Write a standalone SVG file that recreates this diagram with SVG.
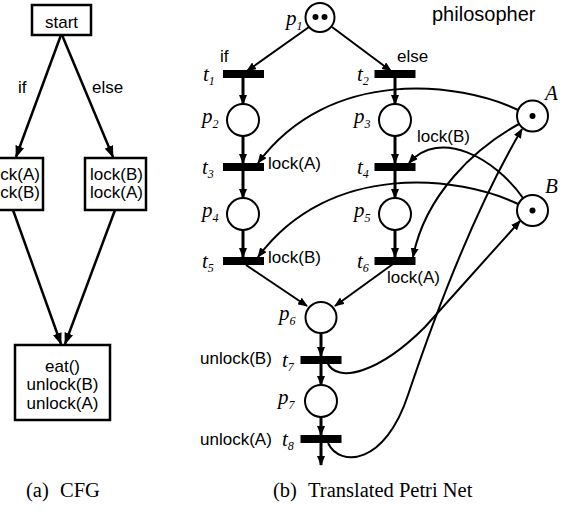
<svg xmlns="http://www.w3.org/2000/svg" width="564" height="516" viewBox="0 0 564 516">
<defs>
<marker id="ah" markerWidth="10" markerHeight="8" refX="9" refY="4" orient="auto" markerUnits="userSpaceOnUse"><path d="M0,0 L10,4 L0,8 z" fill="#000"/></marker>
<marker id="ahc" markerWidth="12" markerHeight="9" refX="11" refY="4.5" orient="auto" markerUnits="userSpaceOnUse"><path d="M0,0 L12,4.5 L0,9 z" fill="#000"/></marker>
</defs>
<style>
.box{fill:#fff;stroke:#000;stroke-width:2.5}
.lbl{font-family:"Liberation Sans",Arial,sans-serif;font-size:17px;fill:#000}
.it{font-family:"Liberation Serif","Times New Roman",serif;font-style:italic;font-size:21px;fill:#000}
.sub{font-size:12px}
.place{fill:#fff;stroke:#000;stroke-width:2}
.bar{fill:#000}
.arc{fill:none;stroke:#000;stroke-width:2;marker-end:url(#ah)}
.v{stroke-width:3}
.cfg{fill:none;stroke:#000;stroke-width:2.5;marker-end:url(#ahc)}
.cap{font-family:"Liberation Serif","Times New Roman",serif;font-size:20.5px;fill:#000}
</style>
<rect width="564" height="516" fill="#fff"/>

<!-- CFG -->
<g id="cfg-edges">
<path class="cfg" d="M61,35 L16,157"/>
<path class="cfg" d="M62,35 L113,157"/>
<path class="cfg" d="M13,210 L61,344"/>
<path class="cfg" d="M115,210 L65,344"/>
</g>
<g id="cfg-start"><rect class="box" x="32" y="5" width="59" height="30"/><text class="lbl" x="61.5" y="28" text-anchor="middle">start</text></g>
<g id="cfg-if"><rect class="box" x="-17" y="158" width="60" height="52"/><text class="lbl" x="-13" y="180">lock(A)</text><text class="lbl" x="-13" y="198">lock(B)</text></g>
<g id="cfg-else"><rect class="box" x="85" y="158" width="61" height="52"/><text class="lbl" x="90" y="180">lock(B)</text><text class="lbl" x="90" y="198">lock(A)</text></g>
<g id="cfg-end"><rect class="box" x="15" y="345" width="95" height="75"/><text class="lbl" x="62.5" y="372" text-anchor="middle">eat()</text><text class="lbl" x="62.5" y="390" text-anchor="middle">unlock(B)</text><text class="lbl" x="62.5" y="409" text-anchor="middle">unlock(A)</text></g>
<text class="lbl" x="18" y="93">if</text>
<text class="lbl" x="92" y="93">else</text>
<text class="cap" x="26" y="497">(a)</text><text class="cap" x="60" y="497">CFG</text>

<!-- Petri net -->
<text class="lbl" x="432" y="21" style="font-size:20px">philosopher</text>
<g id="connectors">
<path class="arc" d="M309,27 L247,71"/>
<path class="arc" d="M332,27 L391,71"/>
<path class="arc v" d="M243,78 L243,104"/>
<path class="arc v" d="M243,136 L243,163"/>
<path class="arc v" d="M243,171 L243,198"/>
<path class="arc v" d="M243,230 L243,257"/>
<path class="arc v" d="M395,78 L395,104"/>
<path class="arc v" d="M395,136 L395,163"/>
<path class="arc v" d="M395,171 L395,198"/>
<path class="arc v" d="M395,230 L395,257"/>
<path class="arc" d="M246,265 L307,306"/>
<path class="arc" d="M393,264 L335,306"/>
<path class="arc v" d="M321,333 L321,356"/>
<path class="arc v" d="M321,364 L321,385"/>
<path class="arc v" d="M321,417 L321,435"/>
<path class="arc v" d="M321,443 L321,465"/>
<path class="arc" d="M518,110 C460,82 330,66 258,163"/>
<path class="arc" d="M518,204 C460,176 330,160 258,257"/>
<path class="arc" d="M523,198 C495,158 440,128 409,163"/>
<path class="arc" d="M519,124 C475,148 425,195 413,257"/>
<path class="arc" d="M327,362 C337,385 380,372 425,327 L520,221"/>
<path class="arc" d="M328,443 C340,468 385,465 408,395 C440,300 480,200 522,129"/>
</g>

<g id="p1"><circle class="place" cx="320" cy="17.5" r="14.5"/><circle cx="315.5" cy="17" r="3"/><circle cx="324.5" cy="17" r="3"/><text class="it" x="286" y="25">p<tspan class="sub" dy="5">1</tspan></text></g>
<g id="t1"><rect class="bar" x="223" y="70" width="41" height="8"/><text class="it" x="203" y="81">t<tspan class="sub" dy="4">1</tspan></text><text class="lbl" x="220" y="62">if</text></g>
<g id="t2"><rect class="bar" x="374.5" y="70" width="41" height="8"/><text class="it" x="357" y="81">t<tspan class="sub" dy="4">2</tspan></text><text class="lbl" x="397" y="62">else</text></g>
<g id="p2"><circle class="place" cx="243" cy="120" r="16"/><text class="it" x="202" y="123">p<tspan class="sub" dy="5">2</tspan></text></g>
<g id="p3"><circle class="place" cx="395" cy="120" r="16"/><text class="it" x="354" y="123">p<tspan class="sub" dy="5">3</tspan></text></g>
<g id="t3"><rect class="bar" x="223" y="163" width="41" height="8"/><text class="it" x="202" y="174">t<tspan class="sub" dy="4">3</tspan></text><text class="lbl" x="268" y="169">lock(A)</text></g>
<g id="t4"><rect class="bar" x="374.5" y="163" width="41" height="8"/><text class="it" x="357" y="174">t<tspan class="sub" dy="4">4</tspan></text><text class="lbl" x="417" y="142">lock(B)</text></g>
<g id="p4"><circle class="place" cx="243" cy="214" r="16"/><text class="it" x="202" y="217">p<tspan class="sub" dy="5">4</tspan></text></g>
<g id="p5"><circle class="place" cx="395" cy="214" r="16"/><text class="it" x="354" y="217">p<tspan class="sub" dy="5">5</tspan></text></g>
<g id="t5"><rect class="bar" x="223" y="257" width="41" height="8"/><text class="it" x="202" y="268">t<tspan class="sub" dy="4">5</tspan></text><text class="lbl" x="268" y="263">lock(B)</text></g>
<g id="t6"><rect class="bar" x="374.5" y="257" width="41" height="8"/><text class="it" x="357" y="268">t<tspan class="sub" dy="4">6</tspan></text><text class="lbl" x="387" y="283">lock(A)</text></g>
<g id="p6"><circle class="place" cx="321" cy="317.5" r="15.5"/><text class="it" x="279" y="320">p<tspan class="sub" dy="5">6</tspan></text></g>
<g id="t7"><rect class="bar" x="300.5" y="356" width="41" height="8"/><text class="it" x="282" y="367">t<tspan class="sub" dy="4">7</tspan></text><text class="lbl" x="200" y="364">unlock(B)</text></g>
<g id="p7"><circle class="place" cx="321" cy="401" r="16"/><text class="it" x="278" y="404">p<tspan class="sub" dy="5">7</tspan></text></g>
<g id="t8"><rect class="bar" x="300.5" y="435" width="41" height="8"/><text class="it" x="282" y="446">t<tspan class="sub" dy="4">8</tspan></text><text class="lbl" x="200" y="445">unlock(A)</text></g>
<g id="A"><circle class="place" cx="532.5" cy="116" r="15.5"/><circle cx="532.5" cy="116" r="3"/><text class="it" x="545" y="100">A</text></g>
<g id="B"><circle class="place" cx="532.5" cy="210.5" r="15.5"/><circle cx="532.5" cy="210.5" r="3"/><text class="it" x="545" y="193">B</text></g>
<text class="cap" x="273" y="497">(b)</text><text class="cap" x="308" y="497">Translated Petri Net</text>
</svg>
